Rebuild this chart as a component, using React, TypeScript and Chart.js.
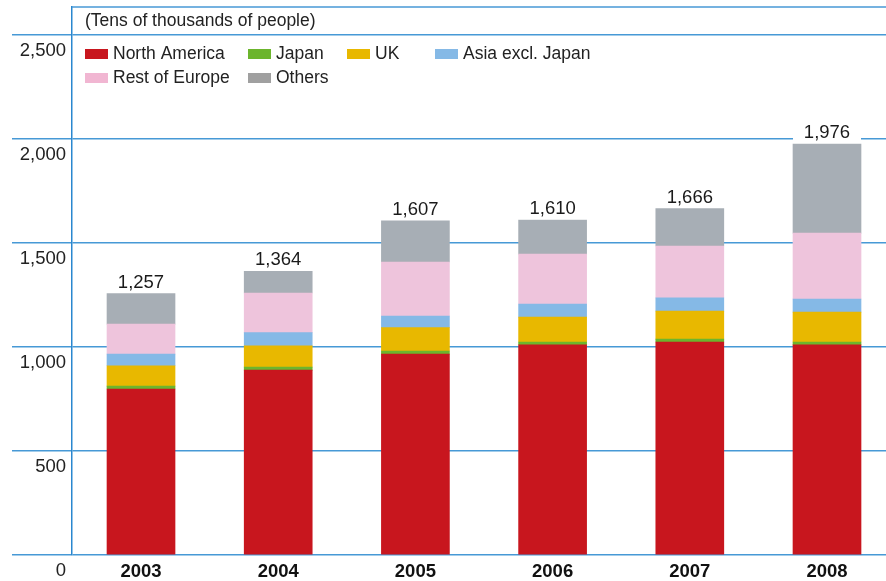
import React, { useEffect, useRef } from "react";
import { Chart, registerables } from "chart.js";

Chart.register(...registerables);

// ---- data ----
const years = ["2003", "2004", "2005", "2006", "2007", "2008"];
const northAmerica = [798, 889, 966, 1010, 1024, 1010];
const japan = [14, 14, 15, 14, 14, 14];
const uk = [98, 103, 112, 120, 135, 144];
const asiaExclJapan = [56, 63, 56, 63, 63, 63];
const restOfEurope = [144, 191, 260, 240, 250, 317];
const others = [147, 104, 198, 163, 180, 428];
const totals = [1257, 1364, 1607, 1610, 1666, 1976];
const yTicks = [0, 500, 1000, 1500, 2000, 2500];
const seriesNames = ["North America", "Japan", "UK", "Asia excl. Japan", "Rest of Europe", "Others"];
const unitLabel = "(Tens of thousands of people)";

// ---- styles ----
const FONT = "'Liberation Sans', Arial, Helvetica, sans-serif";
const BLUE = "#4799d6";
const AXIS_BLUE = "#2a87cf";
const seriesColors = ["#c8161e", "#6cb52d", "#e8b800", "#85b9e6", "#eec4dc", "#a7aeb5"];
const legendColors = ["#c8161e", "#6cb52d", "#e8b800", "#85b9e6", "#f1b6d2", "#a0a0a0"];
const seriesValues = [northAmerica, japan, uk, asiaExclJapan, restOfEurope, others];

// legend grid layout (offsets from chart area left/top)
const legendCols = [13, 176, 275, 363];
const legendRows = [47, 71];
const legendSlots = [
  [0, 0], [1, 0], [2, 0], [3, 0],
  [0, 1], [1, 1],
];

const overlayPlugin = {
  id: "overlay",
  afterDatasetsDraw(chart: any) {
    const ctx = chart.ctx;
    const area = chart.chartArea;
    ctx.save();

    // total labels with white backing
    const lastMeta = chart.getDatasetMeta(seriesValues.length - 1);
    lastMeta.data.forEach((bar: any, i: number) => {
      const w = bar.width;
      const top = bar.y;
      ctx.fillStyle = "#ffffff";
      ctx.fillRect(bar.x - w / 2, top - 25, w, 24);
      ctx.fillStyle = "#1a1a1a";
      ctx.font = `18.5px ${FONT}`;
      ctx.textAlign = "center";
      ctx.textBaseline = "alphabetic";
      ctx.fillText(totals[i].toLocaleString("en-US"), bar.x, top - 6);
    });

    // top border line
    ctx.strokeStyle = BLUE;
    ctx.lineWidth = 1.5;
    ctx.beginPath();
    ctx.moveTo(area.left, area.top);
    ctx.lineTo(area.right, area.top);
    ctx.stroke();

    // unit label
    ctx.fillStyle = "#222";
    ctx.font = `17.5px ${FONT}`;
    ctx.textAlign = "left";
    ctx.textBaseline = "middle";
    ctx.fillText(unitLabel, area.left + 13, area.top + 14);

    // legend
    chart.data.datasets.forEach((ds: any, i: number) => {
      const [c, r] = legendSlots[i];
      const x = area.left + legendCols[c];
      const y = area.top + legendRows[r];
      ctx.fillStyle = legendColors[i];
      ctx.fillRect(x, y - 5, 23, 10);
      ctx.fillStyle = "#222";
      ctx.font = `17.5px ${FONT}`;
      ctx.textAlign = "left";
      ctx.textBaseline = "middle";
      ctx.fillText(ds.label, x + 28, y);
    });
    ctx.restore();
  },
};

export default function App() {
  const ref = useRef<HTMLCanvasElement>(null);

  useEffect(() => {
    if (!ref.current) return;
    const chart = new Chart(ref.current, {
      type: "bar",
      data: {
        datasets: seriesNames.map((name, s) => ({
          label: name,
          data: years.map((_, i) => ({ x: i, y: seriesValues[s][i] })),
          backgroundColor: seriesColors[s],
          borderWidth: 0,
          barThickness: 68,
        })),
      },
      options: {
        animation: false,
        responsive: false,
        maintainAspectRatio: false,
        devicePixelRatio: 1,
        layout: { padding: { top: 7, left: 0, right: 0, bottom: 0 }, autoPadding: false },
        plugins: {
          legend: { display: false },
          tooltip: { enabled: false },
          title: { display: false },
        },
        scales: {
          x: {
            type: "linear",
            stacked: true,
            offset: false,
            min: -0.503,
            max: 5.43,
            grid: { display: false, drawTicks: false, offset: false },
            border: { display: false },
            afterBuildTicks: (scale: any) => {
              scale.ticks = years.map((_, i) => ({ value: i }));
            },
            afterFit: (scale: any) => {
              scale.height = 26;
            },
            ticks: {
              autoSkip: false,
              maxRotation: 0,
              padding: 6,
              color: "#111",
              font: { family: FONT, size: 18.5, weight: "bold" },
              callback: (_v: any, i: number) => years[i],
            },
          },
          y: {
            stacked: true,
            min: 0,
            max: 2635,
            afterBuildTicks: (scale: any) => {
              scale.ticks = yTicks.map((v) => ({ value: v }));
            },
            afterFit: (scale: any) => {
              scale.width = 72;
            },
            grid: {
              color: BLUE,
              lineWidth: 1.5,
              drawTicks: true,
              tickLength: 60,
              tickColor: BLUE,
              tickWidth: 1.5,
            },
            border: { display: true, color: AXIS_BLUE, width: 1.5 },
            ticks: {
              padding: -54,
              labelOffset: 16,
              color: "#222",
              font: { family: FONT, size: 18.5 },
              callback: (v: any) => Number(v).toLocaleString("en-US"),
            },
          },
        },
      } as any,
      plugins: [overlayPlugin],
    });
    return () => chart.destroy();
  }, []);

  return (
    <div style={{ position: "fixed", left: 0, top: 0, width: 886, height: 581, background: "#fff" }}>
      <canvas ref={ref} width={886} height={581} style={{ display: "block", width: 886, height: 581 }} />
    </div>
  );
}
